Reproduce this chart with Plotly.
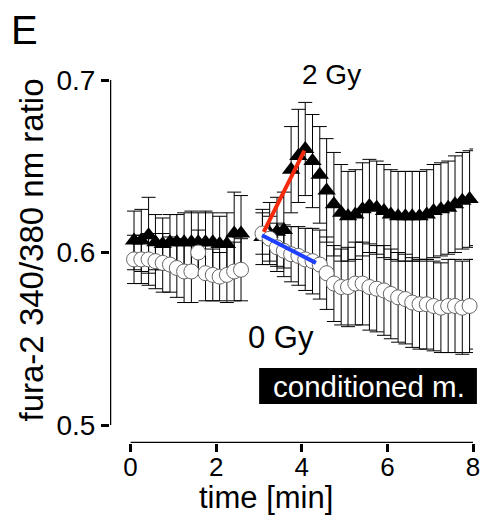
import plotly.graph_objects as go

# ---- data ----
t_pre = [0.08, 0.25, 0.42, 0.58, 0.75, 0.92, 1.08, 1.25, 1.42, 1.58, 1.75, 1.92, 2.08, 2.25, 2.42, 2.58]
t_post = [3.08, 3.25, 3.42, 3.58, 3.75, 3.92, 4.08, 4.25, 4.42, 4.58, 4.75, 4.92, 5.08, 5.25, 5.42, 5.58,
          5.75, 5.92, 6.08, 6.25, 6.42, 6.58, 6.75, 6.92, 7.08, 7.25, 7.42, 7.58, 7.75, 7.92, 8.08]

gy2_pre = [0.607, 0.607, 0.610, 0.606, 0.605, 0.606, 0.606, 0.606, 0.606, 0.606, 0.606, 0.606, 0.605, 0.605, 0.611, 0.611]
gy2_pre_err = [0.017, 0.018, 0.022, 0.016, 0.015, 0.016, 0.016, 0.017, 0.018, 0.017, 0.018, 0.017, 0.016, 0.018, 0.024, 0.022]
gy0_pre = [0.596, 0.596, 0.596, 0.595, 0.594, 0.593, 0.591, 0.589, 0.589, 0.600, 0.588, 0.587, 0.586, 0.587, 0.589, 0.590]
gy0_pre_err = [0.014, 0.014, 0.015, 0.016, 0.017, 0.016, 0.017, 0.018, 0.018, 0.013, 0.016, 0.015, 0.014, 0.016, 0.017, 0.018]

gy2_post = [0.609, 0.611, 0.612, 0.613, 0.648, 0.656, 0.660, 0.653, 0.645, 0.636, 0.628, 0.623, 0.621, 0.622,
            0.625, 0.627, 0.626, 0.624, 0.622, 0.621, 0.621, 0.621, 0.621, 0.622, 0.624, 0.625, 0.626, 0.628,
            0.630, 0.631, 0.632]
gy2_post_err = [0.016, 0.018, 0.020, 0.022, 0.025, 0.027, 0.027, 0.027, 0.028, 0.030, 0.030, 0.028, 0.026,
                0.026, 0.027, 0.027, 0.027, 0.027, 0.026, 0.026, 0.026, 0.026, 0.026, 0.026, 0.027, 0.027,
                0.027, 0.028, 0.028, 0.028, 0.028]
gy0_post = [0.611, 0.608, 0.603, 0.601, 0.599, 0.598, 0.596, 0.595, 0.593, 0.588, 0.582, 0.580, 0.580, 0.582,
            0.582, 0.580, 0.579, 0.578, 0.576, 0.574, 0.573, 0.571, 0.570, 0.570, 0.569, 0.568, 0.569, 0.569,
            0.568, 0.569, 0.570]
gy0_post_err = [0.012, 0.013, 0.014, 0.015, 0.016, 0.017, 0.018, 0.019, 0.020, 0.021, 0.022, 0.022, 0.023,
                0.024, 0.024, 0.025, 0.025, 0.026, 0.026, 0.026, 0.026, 0.026, 0.026, 0.026, 0.026, 0.026,
                0.027, 0.027, 0.027, 0.027, 0.026]

# initial-slope fit lines
fit2_x = [3.11, 4.06]
fit2_y = [0.612, 0.659]
fit0_x = [3.07, 4.33]
fit0_y = [0.610, 0.594]

x_ticks = [0, 2, 4, 6, 8]
y_ticks = [0.5, 0.6, 0.7]
y_tick_text = ["0.5", "0.6", "0.7"]

FONT = "Liberation Sans, Arial, Helvetica, sans-serif"

# ---- geometry: the page body has an 8px margin, so shift everything by it ----
OFF = 8
W, H = 489 - OFF, 526 - 2 * OFF
PLOT_L, PLOT_R, PLOT_T, PLOT_B = 110, 480, 80, 443   # reference pixels
ML, MR, MT, MB = PLOT_L - OFF, W - (PLOT_R - OFF), PLOT_T - OFF, H - (PLOT_B - OFF)
PW, PH = W - ML - MR, H - MT - MB


def px(x):
    return (x - OFF - ML) / PW


def py(y):
    return (H - MB - (y - OFF)) / PH


fig = go.Figure()

fig.add_trace(go.Scatter(
    x=t_pre + t_post, y=gy2_pre + gy2_post, mode="markers",
    error_y=dict(type="data", array=gy2_pre_err + gy2_post_err, color="black", thickness=1, width=7),
    marker=dict(symbol="triangle-up", size=16, color="black", line=dict(width=0)),
    cliponaxis=False, showlegend=False))

fig.add_trace(go.Scatter(
    x=t_pre + t_post, y=gy0_pre + gy0_post, mode="markers",
    error_y=dict(type="data", array=gy0_pre_err + gy0_post_err, color="black", thickness=1, width=7),
    marker=dict(symbol="circle", size=15, color="white", line=dict(width=1, color="#666666")),
    cliponaxis=False, showlegend=False))

fig.add_trace(go.Scatter(x=fit2_x, y=fit2_y, mode="lines", line=dict(color="#f52a0a", width=4),
                         cliponaxis=False, showlegend=False))
fig.add_trace(go.Scatter(x=fit0_x, y=fit0_y, mode="lines", line=dict(color="#2040ff", width=4),
                         cliponaxis=False, showlegend=False))

x_per = (480 - 131) / 8
y_per = (425 - 80) / 0.2
x_lo = -(131 - PLOT_L) / x_per
y_lo = 0.5 - (PLOT_B - 425) / y_per

fig.update_xaxes(range=[x_lo, 8], tickvals=x_ticks, ticks="outside", ticklen=8, tickwidth=2.5,
                 tickcolor="black", showline=False, showgrid=False, zeroline=False,
                 ticklabelstandoff=-7,
                 tickfont=dict(family=FONT, size=26, color="black"))
fig.update_yaxes(range=[y_lo, 0.7], tickvals=y_ticks, ticktext=y_tick_text, ticks="outside", ticklen=8,
                 tickwidth=2.5, tickcolor="black", showline=False, showgrid=False, zeroline=False,
                 tickfont=dict(family=FONT, size=28, color="black"))

shapes = [
    dict(type="line", xref="x", yref="y", x0=x_lo, x1=x_lo, y0=0.5, y1=0.7, line=dict(color="black", width=2.5)),
    dict(type="line", xref="x", yref="y", x0=0, x1=8, y0=y_lo, y1=y_lo, line=dict(color="black", width=2.5)),
    dict(type="rect", xref="paper", yref="paper", x0=px(262), x1=px(484), y0=py(404), y1=py(368),
         fillcolor="black", line=dict(width=0), layer="above"),
]

ann = [
    dict(text="E", x=px(23), y=py(30), font=dict(size=40)),
    dict(text="2 Gy", x=px(336), y=py(75), font=dict(size=28)),
    dict(text="0 Gy", x=px(284), y=py(337), font=dict(size=31)),
    dict(text="conditioned m.", x=px(374), y=py(386), font=dict(size=29.5, color="white")),
    dict(text="time [min]", x=px(269), y=py(497), font=dict(size=31)),
    dict(text="fura-2 340/380 nm ratio", x=px(31), y=py(250), font=dict(size=33), textangle=-90),
]
annotations = []
for a in ann:
    f = dict(family=FONT, color="black")
    f.update(a.pop("font"))
    annotations.append(dict(xref="paper", yref="paper", showarrow=False, xanchor="center",
                            yanchor="middle", font=f, **a))

fig.update_layout(width=W, height=H, margin=dict(l=ML, r=MR, t=MT, b=MB, pad=0),
                  paper_bgcolor="white", plot_bgcolor="white", shapes=shapes, annotations=annotations)

fig.write_html("out.html")
